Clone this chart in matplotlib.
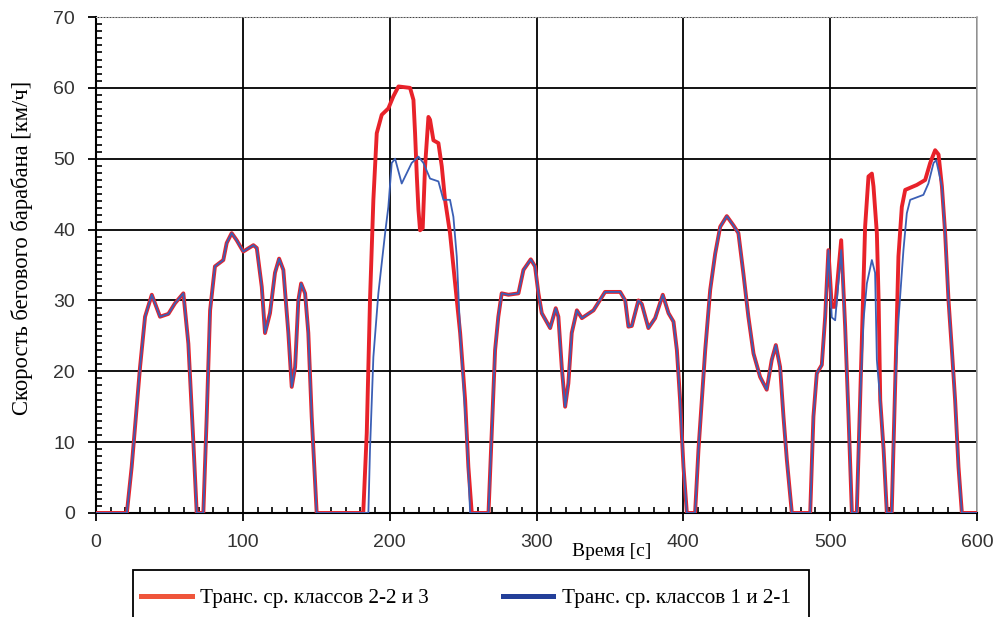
import numpy as np
import matplotlib
matplotlib.use("Agg")
from matplotlib import pyplot as plt
from matplotlib.lines import Line2D
from matplotlib.patches import Rectangle
from matplotlib.ticker import MultipleLocator

# общие участки цикла (0-182 с)
t_a = [0, 21, 24.3, 30, 33.4, 38, 43.6, 49.3, 53.8, 59.5, 62.9, 66.3, 68.6, 73.1, 75.4, 77.7, 81, 86.7, 89, 92.4,
       95.8, 100.3, 107.2, 109.5, 112.9, 115.1, 118.5, 121.9, 124.7, 127.6, 131, 133.3, 135.6, 137.8, 139.7, 142.4,
       144.6, 146.9, 150.3, 182]
v_a = [0, 0, 6.5, 20.6, 27.7, 30.8, 27.7, 28.1, 29.6, 31.0, 23.9, 10, 0, 0, 13.6, 28.6, 34.8, 35.7, 38.1, 39.5,
       38.5, 36.9, 37.8, 37.4, 31.9, 25.4, 28.2, 33.9, 35.9, 34.3, 25.4, 17.8, 20.6, 30, 32.4, 31,
       25.4, 13.6, 0, 0]

# участок 182-257 с
t_red_b = [184.4, 186.6, 188.9, 191.2, 194.6, 199.1, 202.5, 206, 213.9, 216.2, 217.3, 218.5, 219.6, 220.7,
           222.5, 224.1, 226.4, 227.5, 229.8, 233.2, 235.5, 237.7, 241.1, 244.6, 248, 251.4, 253.6, 255.9]
v_red_b = [11.3, 30, 44.2, 53.6, 56.2, 57.1, 58.8, 60.2, 60, 58.3, 53.6, 47.5, 42.8, 39.9,
           40.2, 48.9, 55.9, 55.5, 52.6, 52.2, 48.9, 44.2, 39.5, 32.4, 25.4, 15.9, 6.5, 0]
t_blue_b = [185.5, 186.6, 188.9, 192.3, 196.9, 199.1, 201.4, 203.7, 208.2, 215, 219.6, 223, 227.5, 233.2,
            236.6, 241.1, 243.4, 245.7, 248, 250.2, 253, 254.8]
v_blue_b = [0, 8.9, 22, 31, 39.5, 43.2, 49.4, 50, 46.5, 49.4, 50.3, 49.4, 47.2, 46.8,
            44.2, 44.2, 41.8, 36.2, 25.4, 18.3, 8.9, 0]

# общий участок 267-497 с
t_c = [267.3, 269.5, 271.8, 274, 276.3, 280.9, 287.7, 291.1, 296.1, 299, 301.3, 303.6, 309.3, 313.1, 314.9,
       317.2, 319.5, 321.7, 324, 327.5, 330.9, 338.8, 346.7, 357, 360.4, 362.6, 364.9, 369.4, 371.7, 376.2,
       380.8, 386, 389.9, 393.3, 395.6, 397.8, 400.1, 402.4, 408, 410.3, 412.6, 414.9, 418.3, 421.7, 425.1,
       429.6, 434.1, 437.5, 440.9, 444.3, 447.8, 452.3, 456.8, 460.2, 463, 465.9, 468.2, 470.5, 473.9, 486.4,
       488.6, 490.9, 494.3, 496.6]
v_c = [0, 11.2, 23, 27.7, 31, 30.8, 31, 34.3, 35.8, 34.8, 31, 28.2, 26.1, 28.9, 27.7,
       20.6, 15, 18.3, 25.4, 28.6, 27.5, 28.6, 31.2, 31.2, 30, 26.3, 26.4, 30, 29.5, 26.1,
       27.5, 30.8, 28.2, 27, 23, 15.9, 6.5, 0, 0, 8.9, 15.9, 23, 31.5, 36.6, 40.4,
       41.9, 40.6, 39.5, 33.8, 27.7, 22.5, 19.2, 17.4, 21.6, 23.7, 20.6, 13.6, 7.5, 0, 0,
       13.6, 19.7, 20.9, 27.7]

# участок 498-600 с
t_red_d = [498.8, 501.1, 503.4, 507.5, 510.2, 512.5, 514.8, 518.1, 520.4, 522.7, 523.8, 526.1, 528.4, 529.5,
           531.8, 533, 534.1, 536.4, 538.6, 541.9, 544.3, 546.5, 548.8, 551.1, 559, 564.7, 568.1, 571.5,
           573.8, 576.1, 578.3, 580.6, 582.9, 585.1, 587.4, 589.7, 600]
v_red_d = [37.1, 29.1, 29.1, 38.5, 26.3, 13.6, 0, 0, 15.9, 32.4, 40.4, 47.5, 47.9, 46.1,
           39.5, 30, 15.9, 8.9, 0, 0, 18.3, 36.2, 43.2, 45.6, 46.3, 47, 49.4, 51.2,
           50.6, 46.1, 39.5, 30, 23, 15.9, 6.5, 0, 0]
t_blue_d = [498.8, 501.1, 503.4, 507.5, 510.2, 512.5, 514.8, 518.1, 520.4, 522.7, 525, 528.4, 530.6, 531.8,
            534.1, 536.4, 538.6, 541.9, 544.3, 546.5, 549.9, 552.2, 554.5, 563.5, 566.9, 570.4, 572.2, 576.1,
            578.3, 580.6, 582.9, 585.1, 587.4, 589.7, 600]
v_blue_d = [37.1, 27.6, 27.2, 37.1, 26.3, 13.6, 0, 0, 15.9, 27.2, 32.4, 35.7, 33.9, 21.6,
            15.9, 8.9, 0, 0, 18.3, 27.2, 37.1, 42.3, 44.2, 44.9, 46.5, 49.4, 49.8, 46.1,
            39.5, 30, 23, 15.9, 6.5, 0, 0]

label_red = "Транс. ср. классов 2-2 и 3"
label_blue = "Транс. ср. классов 1 и 2-1"

t_red = t_a + t_red_b + t_c + t_red_d
v_red = v_a + v_red_b + v_c + v_red_d
t_blue = t_a + t_blue_b + t_c + t_blue_d
v_blue = v_a + v_blue_b + v_c + v_blue_d

fig = plt.figure(figsize=(10, 6.17), dpi=100)
ax = fig.add_axes([0.096, 0.1686, 0.881, 0.8038])

ax.plot(t_red, v_red, color="#e8222a", lw=2.8, zorder=3)
ax.plot(t_blue, v_blue, color="#3b5fb5", lw=1.3, zorder=4)

ax.set_xlim(0, 600)
ax.set_ylim(0, 70)
ax.xaxis.set_major_locator(MultipleLocator(100))
ax.xaxis.set_minor_locator(MultipleLocator(10))
ax.yaxis.set_major_locator(MultipleLocator(10))
ax.yaxis.set_minor_locator(MultipleLocator(1))
ax.grid(True, which="major", color="black", lw=1.3, zorder=1)
ax.set_axisbelow(True)

ax.tick_params(which="major", direction="out", length=6, width=1.3, color="black", pad=9,
               labelsize=14, labelcolor="#333333")
ax.tick_params(which="minor", direction="in", length=4, width=1.2, color="black")
for lab in ax.get_xticklabels() + ax.get_yticklabels():
    lab.set_family("Liberation Sans")

ax.spines["left"].set_linewidth(1.5)
ax.spines["bottom"].set_linewidth(1.5)
ax.spines["top"].set_color("#aaaaaa")
ax.spines["top"].set_linestyle(":")
ax.spines["right"].set_color("#aaaaaa")
ax.spines["right"].set_linewidth(1.2)

fig.text(0.022, 1 - 248 / 617, "Скорость бегового барабана [км/ч]", rotation=90, ha="center", va="center",
         family="Liberation Serif", fontsize=16.3)
fig.text(0.612, 1 - 551 / 617, "Время [с]", ha="center", va="center", family="Liberation Serif", fontsize=14)

# рамка легенды (низ обрезан краем картинки)
fig.patches.append(Rectangle((0.133, -0.05), 0.676, 1 - 570 / 617 + 0.05, transform=fig.transFigure,
                             fill=False, edgecolor="black", lw=1.3))
handles = [Line2D([], [], color="#ef553b", lw=3.6), Line2D([], [], color="#233f99", lw=3.6)]
fig.legend(handles, [label_red, label_blue], loc="center left", bbox_to_anchor=(0.141, 1 - 598 / 617),
           ncol=2, frameon=False, handlelength=2.4, handletextpad=0.4, columnspacing=3.5,
           borderpad=0, borderaxespad=0,
           prop={"family": "Liberation Serif", "size": 15.2})

fig.savefig("out.png", dpi=100)
